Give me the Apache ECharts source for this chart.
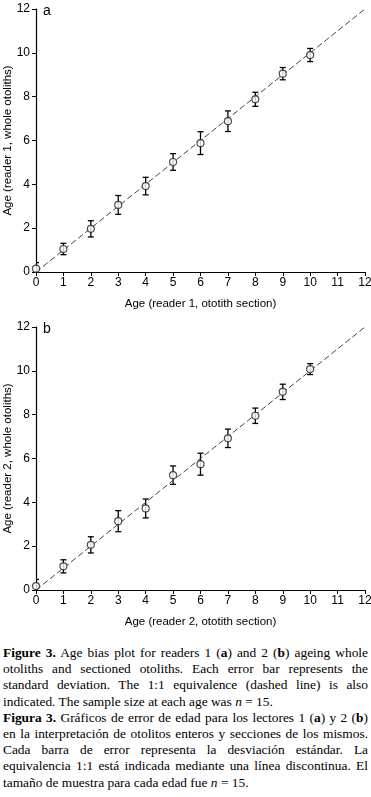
<!DOCTYPE html>
<html>
<head>
<meta charset="utf-8">
<script src="https://cdn.jsdelivr.net/npm/echarts@6/dist/echarts.min.js"></script>
<style>
  html, body { margin: 0; padding: 0; background: #fff; }
  #chart { width: 371px; height: 640px; }
  .caption {
    font-family: "Liberation Serif", "Times New Roman", serif;
    font-size: 13.4px;
    line-height: 16.2px;
    text-align: justify;
    padding: 0 3px 0 3px;
    margin-top: 5px;
    color: #000;
  }
</style>
</head>
<body>
<div id="chart"></div>
<div class="caption">
  <div><b>Figure 3.</b> Age bias plot for readers 1 (<b>a</b>) and 2 (<b>b</b>) ageing whole otoliths and sectioned otoliths. Each error bar represents the standard deviation. The 1:1 equivalence (dashed line) is also indicated. The sample size at each age was <i>n</i> = 15.</div>
  <div><b>Figura 3.</b> Gráficos de error de edad para los lectores 1 (<b>a</b>) y 2 (<b>b</b>) en la interpretación de otolitos enteros y secciones de los mismos. Cada barra de error representa la desviación estándar. La equivalencia 1:1 está indicada mediante una línea discontinua. El tamaño de muestra para cada edad fue <i>n</i> = 15.</div>
</div>
<script>
// section ages (x) and whole-otolith mean ages +- sd (y)
const ages = [0, 1, 2, 3, 4, 5, 6, 7, 8, 9, 10];
const meanA = [0.15, 1.05, 1.97, 3.06, 3.92, 5.02, 5.88, 6.88, 7.88, 9.05, 9.9];
const sdA = [0.28, 0.26, 0.37, 0.43, 0.4, 0.38, 0.52, 0.47, 0.32, 0.28, 0.3];
const meanB = [0.18, 1.08, 2.06, 3.14, 3.72, 5.24, 5.74, 6.92, 7.95, 9.04, 10.08];
const sdB = [0.3, 0.3, 0.37, 0.48, 0.43, 0.42, 0.5, 0.42, 0.35, 0.35, 0.25];
const oneToOne = [[0, 0], [12, 12]];
const axisMax = 12;

const font = '"Liberation Sans Narrow", "Liberation Sans", Arial, sans-serif';

function points(mean) {
  return ages.map((a, i) => [a, mean[i]]);
}
function bars(mean, sd) {
  return ages.map((a, i) => [a, mean[i] - sd[i], mean[i] + sd[i]]);
}

function errorBar(params, api) {
  const x = api.value(0);
  const top = api.coord([x, api.value(2)]);
  const bot = api.coord([x, api.value(1)]);
  const w = 3;
  const st = { stroke: '#000', lineWidth: 1.3 };
  return {
    type: 'group',
    children: [
      { type: 'line', shape: { x1: top[0], y1: top[1], x2: bot[0], y2: bot[1] }, style: st },
      { type: 'line', shape: { x1: top[0] - w, y1: top[1], x2: top[0] + w, y2: top[1] }, style: st },
      { type: 'line', shape: { x1: bot[0] - w, y1: bot[1], x2: bot[0] + w, y2: bot[1] }, style: st }
    ]
  };
}

function xAxis(idx, name) {
  return {
    gridIndex: idx, type: 'value', min: 0, max: axisMax, interval: 1,
    name: name, nameLocation: 'middle', nameGap: 26, nameMoveOverlap: false,
    nameTextStyle: { fontFamily: font, fontSize: 11.5, color: '#000' },
    axisLine: { lineStyle: { color: '#000', width: 1.2 } },
    axisTick: { length: 4, lineStyle: { color: '#000' } },
    axisLabel: { fontFamily: font, fontSize: 12, color: '#000', margin: 5 },
    splitLine: { show: false }
  };
}
function yAxis(idx, name) {
  return {
    gridIndex: idx, type: 'value', min: 0, max: axisMax, interval: 2,
    name: name, nameLocation: 'middle', nameGap: 22, nameRotate: 90, nameMoveOverlap: false,
    nameTextStyle: { fontFamily: font, fontSize: 11.5, color: '#000' },
    axisLine: { lineStyle: { color: '#000', width: 1.2 } },
    axisTick: { length: 4, lineStyle: { color: '#000' } },
    axisLabel: { fontFamily: font, fontSize: 12, color: '#000', margin: 6 },
    splitLine: { show: false }
  };
}

function panel(idx, mean, sd) {
  return [
    {
      type: 'line', xAxisIndex: idx, yAxisIndex: idx, data: oneToOne,
      symbol: 'none', silent: true,
      lineStyle: { color: '#444', width: 1, type: [6, 3] }
    },
    {
      type: 'custom', xAxisIndex: idx, yAxisIndex: idx, clip: true,
      data: bars(mean, sd), renderItem: errorBar, z: 3
    },
    {
      type: 'scatter', xAxisIndex: idx, yAxisIndex: idx, data: points(mean),
      symbol: 'circle', symbolSize: 7, z: 4,
      itemStyle: { color: '#fff', borderColor: '#222', borderWidth: 1.2 }
    }
  ];
}

const chart = echarts.init(document.getElementById('chart'));
chart.setOption({
  backgroundColor: '#fff',
  animation: false,
  grid: [
    { left: 36, top: 9, width: 329, height: 263, outerBoundsMode: 'none', containLabel: false },
    { left: 36, top: 327, width: 329, height: 263, outerBoundsMode: 'none', containLabel: false }
  ],
  xAxis: [
    xAxis(0, 'Age (reader 1, ototith section)'),
    xAxis(1, 'Age (reader 2, ototith section)')
  ],
  yAxis: [
    yAxis(0, 'Age (reader 1, whole otoliths)'),
    yAxis(1, 'Age (reader 2, whole otoliths)')
  ],
  graphic: [
    { type: 'text', left: 43, top: 4, style: { text: 'a', font: '14px ' + font, fill: '#000' } },
    { type: 'text', left: 43, top: 322, style: { text: 'b', font: '14px ' + font, fill: '#000' } }
  ],
  series: [].concat(panel(0, meanA, sdA), panel(1, meanB, sdB))
});
</script>
</body>
</html>
